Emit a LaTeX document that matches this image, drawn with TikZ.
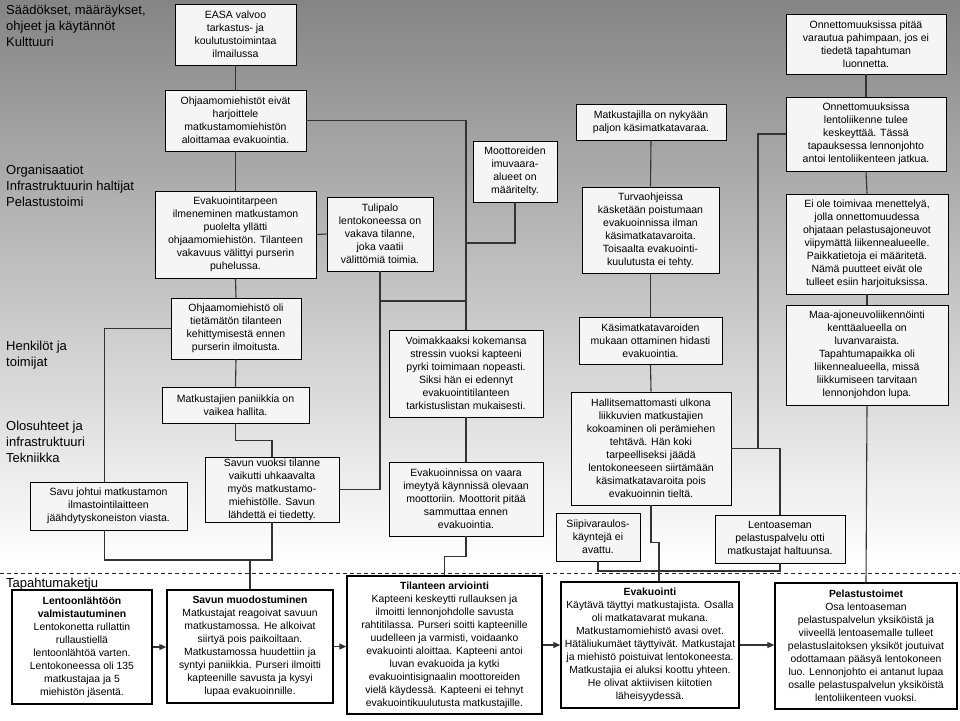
\documentclass[tikz,border=0pt]{standalone}
\usepackage{fontspec}
\setmainfont{Liberation Sans}
\usetikzlibrary{arrows.meta,calc}
\begin{document}
\begin{tikzpicture}[x=1pt,y=-1pt,
  box/.style={draw=black, line width=0.8pt, fill=white!96!black, inner sep=1pt, align=center,
    font=\fontsize{10.5}{13}\selectfont},
  evbox/.style={draw=black, line width=1.4pt, fill=white, inner sep=1pt, align=center,
    font=\fontsize{10.4}{13}\selectfont},
  sz/.style 2 args={minimum width=#1pt, minimum height=#2pt},
  lab/.style={anchor=north west, align=left, inner sep=0pt, font=\fontsize{13}{16}\selectfont},
  con/.style={draw=black!80, line width=1.1pt},
  flow/.style={draw=black!80, line width=1.1pt, -{Triangle[length=7pt,width=6pt]}}]
\useasboundingbox (0,0) rectangle (960,720);
\fill[white] (0,0) rectangle (960,720);
\shade[top color=black!48, bottom color=white] (0,0) rectangle (960,562);
\draw[black!85, line width=0.9pt, dash pattern=on 4pt off 3pt] (0,573) -- (960,573);

% level labels
\node[lab] (l1) at (6,1) {\rule{0pt}{13pt}Säädökset, määräykset,\\ohjeet ja käytännöt\\Kulttuuri};
\node[lab] (l2) at (6,161) {\rule{0pt}{13pt}Organisaatiot\\Infrastruktuurin haltijat\\Pelastustoimi};
\node[lab] (l3) at (6,337) {\rule{0pt}{13pt}Henkilöt ja\\toimijat};
\node[lab] (l4) at (6,417) {\rule{0pt}{13pt}Olosuhteet ja\\infrastruktuuri\\Tekniikka};
\node[lab] (l5) at (6,574) {\rule{0pt}{13pt}Tapahtumaketju};

% upper boxes
\node[box, sz={121}{61}] (easa) at (235.5,34.5) {EASA valvoo\\tarkastus- ja\\koulutustoimintaa\\ilmailussa};
\node[box, sz={141}{61}] (ohje) at (235.5,120.5) {Ohjaamomiehistöt eivät\\harjoittele\\matkustamomiehistön\\aloittamaa evakuointia.};
\node[box, sz={161}{87}] (evt) at (235.5,234.5) {Evakuointitarpeen\\ilmeneminen matkustamon\\puolelta yllätti\\ohjaamomiehistön. Tilanteen\\vakavuus välittyi purserin\\puhelussa.};
\node[box, sz={106}{74}] (tuli) at (380,234) {Tulipalo\\lentokoneessa on\\vakava tilanne,\\joka vaatii\\välittömiä toimia.};
\node[box, sz={84}{61}] (moot) at (515,171.5) {Moottoreiden\\imuvaara-\\alueet on\\määritelty.};
\node[box, sz={150}{36}] (matk) at (651,122) {Matkustajilla on nykyään\\paljon käsimatkatavaraa.};
\node[box, sz={137}{86}] (turva) at (650.5,230) {Turvaohjeissa\\käsketään poistumaan\\evakuoinnissa ilman\\käsimatkatavaroita.\\Toisaalta evakuointi-\\kuulutusta ei tehty.};
\node[box, sz={160}{60}] (onnp) at (866,44) {Onnettomuuksissa pitää\\varautua pahimpaan, jos ei\\tiedetä tapahtuman\\luonnetta.};
\node[box, sz={160}{74}] (onnl) at (866,134) {Onnettomuuksissa\\lentoliikenne tulee\\keskeyttää. Tässä\\tapauksessa lennonjohto\\antoi lentoliikenteen jatkua.};
\node[box, sz={162}{100}] (eiole) at (867,244) {Ei ole toimivaa menettelyä,\\jolla onnettomuudessa\\ohjataan pelastusajoneuvot\\viipymättä liikennealueelle.\\Paikkatietoja ei määritetä.\\Nämä puutteet eivät ole\\tulleet esiin harjoituksissa.};
\node[box, sz={162}{100}] (maa) at (867,355) {Maa-ajoneuvoliikennöinti\\kenttäalueella on\\luvanvaraista.\\Tapahtumapaikka oli\\liikennealueella, missä\\liikkumiseen tarvitaan\\lennonjohdon lupa.};
\node[box, sz={130}{61}] (ohjoli) at (236,328.5) {Ohjaamomiehistö oli\\tietämätön tilanteen\\kehittymisestä ennen\\purserin ilmoitusta.};
\node[box, sz={147}{36}] (panik) at (235.5,405) {Matkustajien paniikkia on\\vaikea hallita.};
\node[box, sz={134}{65}] (savv) at (272,489.5) {Savun vuoksi tilanne\\vaikutti uhkaavalta\\myös matkustamo-\\miehistölle. Savun\\lähdettä ei tiedetty.};
\node[box, sz={157}{48}] (savj) at (108.5,506) {Savu johtui matkustamon\\ilmastointilaitteen\\jäähdytyskoneiston viasta.};
\node[box, sz={154}{87}] (voima) at (466,373.5) {Voimakkaaksi kokemansa\\stressin vuoksi kapteeni\\pyrki toimimaan nopeasti.\\Siksi hän ei edennyt\\evakuointitilanteen\\tarkistuslistan mukaisesti.};
\node[box, sz={154}{74}] (evv) at (466,499) {Evakuoinnissa on vaara\\imeytyä käynnissä olevaan\\moottoriin. Moottorit pitää\\sammuttaa ennen\\evakuointia.};
\node[box, sz={143}{47}] (kasi) at (650.5,340.5) {Käsimatkatavaroiden\\mukaan ottaminen hidasti\\evakuointia.};
\node[box, sz={160}{113}] (hall) at (651,448.5) {Hallitsemattomasti ulkona\\liikkuvien matkustajien\\kokoaminen oli perämiehen\\tehtävä. Hän koki\\tarpeelliseksi jäädä\\lentokoneeseen siirtämään\\käsimatkatavaroita pois\\evakuoinnin tieltä.};
\node[box, sz={84}{48}] (siipi) at (598,537) {Siipivaraulos-\\käyntejä ei\\avattu.};
\node[box, sz={130}{48}] (lpel) at (780,539) {Lentoaseman\\pelastuspalvelu otti\\matkustajat haltuunsa.};

% event chain
\node[evbox, sz={140}{114}] (b1) at (82,647) {\textbf{Lentoonlähtöön}\\\textbf{valmistautuminen}\\Lentokonetta rullattin\\rullaustiellä\\lentoonlähtöä varten.\\Lentokoneessa oli 135\\matkustajaa ja 5\\miehistön jäsentä.};
\node[evbox, sz={166}{113}] (b2) at (250,646.5) {\textbf{Savun muodostuminen}\\Matkustajat reagoivat savuun\\matkustamossa. He alkoivat\\siirtyä pois paikoiltaan.\\Matkustamossa huudettiin ja\\syntyi paniikkia. Purseri ilmoitti\\kapteenille savusta ja kysyi\\lupaa evakuoinnille.};
\node[evbox, sz={195}{138}] (b3) at (444.5,645) {\textbf{Tilanteen arviointi}\\Kapteeni keskeytti rullauksen ja\\ilmoitti lennonjohdolle savusta\\rahtitilassa. Purseri soitti kapteenille\\uudelleen ja varmisti, voidaanko\\evakuointi aloittaa. Kapteeni antoi\\luvan evakuoida ja kytki\\evakuointisignaalin moottoreiden\\vielä käydessä. Kapteeni ei tehnyt\\evakuointikuulutusta matkustajille.};
\node[evbox, sz={178}{126}] (b4) at (650,645) {\textbf{Evakuointi}\\Käytävä täyttyi matkustajista. Osalla\\oli matkatavarat mukana.\\Matkustamomiehistö avasi ovet.\\Hätäliukumäet täyttyivät. Matkustajat\\ja miehistö poistuivat lentokoneesta.\\Matkustajia ei aluksi koottu yhteen.\\He olivat aktiivisen kiitotien\\läheisyydessä.};
\node[evbox, sz={182}{126}] (b5) at (866,646) {\textbf{Pelastustoimet}\\Osa lentoaseman\\pelastuspalvelun yksiköistä ja\\viiveellä lentoasemalle tulleet\\pelastuslaitoksen yksiköt joutuivat\\odottamaan pääsyä lentokoneen\\luo. Lennonjohto ei antanut lupaa\\osalle pelastuspalvelun yksiköistä\\lentoliikenteen vuoksi.};

% junction coordinates
\coordinate (j1) at (466,243);
\coordinate (j2) at (466,301);
\coordinate (m1) at (250,560);
\coordinate (j5) at (598,571);
\coordinate (j6) at (758,448.5);

% connectors
\draw[con] (easa.south) -- (ohje.north);
\draw[con] (ohje.south) -- (evt.north);
\draw[con] (ohje.east) -| (voima.north);
\draw[con] (moot.south) |- (j1);
\draw[con] (tuli.south) |- (savv.east);
\draw[con] (tuli.south |- j2) -- (j2);
\draw[con] (evt.east) -- (tuli.west);
\draw[con] (evt.south) -- (ohjoli.north);
\draw[con] (ohjoli.west) -| ([xshift=-4pt]savj.north);
\draw[con] (ohjoli.south) -- (panik.north);
\draw[con] (panik.south) -- ++(0,17) -| (savv.north);
\draw[con] ([xshift=-4pt]savj.south) |- (m1) -| (savv.south);
\draw[con] (m1) -- (b2.north);
\draw[con] (voima.south) -- (evv.north);
\draw[con] (evv.south) -- ++(0,20) -| (b3.north);
\draw[con] (matk.south) -- (turva.north);
\draw[con] (turva.south) -- (kasi.north);
\draw[con] (kasi.south) -- (hall.north);
\draw[con] (hall.south) -- ++(0,37.5) -| ([xshift=9pt]b4.north);
\draw[con] (siipi.south) -- (j5) -| (lpel.south);
\draw[con] (hall.east) -| (lpel.north);
\draw[con] (onnl.west) -| (j6);
\draw[con] (onnp.south) -- (onnl.north);
\draw[con] (onnl.south) -- (eiole.north);
\draw[con] (eiole.south) -- (maa.north);
\draw[con] (maa.south) -- (b5.north);

% event flow arrows
\draw[flow] (b1.east) -- (b1.east -| b2.west);
\draw[flow] (b2.east) -- (b2.east -| b3.west);
\draw[flow] (b3.east |- b4.west) -- (b4.west);
\draw[flow] (b4.east) -- (b4.east -| b5.west);
\end{tikzpicture}
\end{document}
